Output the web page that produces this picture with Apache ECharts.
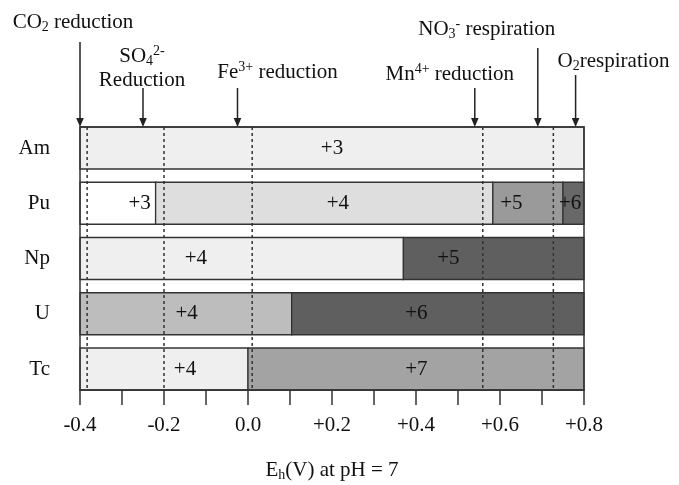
<!DOCTYPE html>
<html><head><meta charset="utf-8">
<script src="https://cdn.jsdelivr.net/npm/echarts@6/dist/echarts.min.js"></script>
<style>html,body{margin:0;padding:0;background:#fff}#c{width:679px;height:485px}</style>
</head><body><div id="c"></div>
<script>
// ---------- data ----------
const categories = ['Am', 'Pu', 'Np', 'U', 'Tc'];
const segElement = [0, 1, 1, 1, 1, 2, 2, 3, 3, 4, 4];
const segFrom = [-0.4, -0.4, -0.22, 0.583, 0.75, -0.4, 0.37, -0.4, 0.104, -0.4, 0.0];
const segTo = [0.8, -0.22, 0.583, 0.75, 0.8, 0.37, 0.8, 0.104, 0.8, 0.0, 0.8];
const segState = ['+3', '+3', '+4', '+5', '+6', '+4', '+5', '+4', '+6', '+4', '+7'];
const segLabelEh = [0.2, -0.258, 0.214, 0.627, 0.767, -0.124, 0.477, -0.146, 0.401, -0.15, 0.401];
const dashEh = [-0.383, -0.2, 0.01, 0.559, 0.727];
const arrowEh = [-0.4, -0.25, -0.025, 0.54, 0.69, 0.78];
const arrowText = [
  'CO{sub|2} reduction',
  'SO{sub|4}{sup|2-}\nReduction',
  'Fe{sup|3+} reduction',
  'Mn{sup|4+} reduction',
  'NO{sub|3}{sup|-} respiration',
  'O{sub|2}respiration'
];
const xTickLabels = ['-0.4', '-0.2', '0.0', '+0.2', '+0.4', '+0.6', '+0.8'];
const xMin = -0.4, xMax = 0.8, xStep = 0.1;

// ---------- styles / layout ----------
const SERIF = '"Liberation Serif", "Times New Roman", serif';
const FS = 21;
const FILLS = ['#efefef', '#ffffff', '#dedede', '#9a9a9a', '#686868', '#efefef', '#5f5f5f', '#bdbdbd', '#5f5f5f', '#efefef', '#a3a3a3'];
const ARROW_LEN = [85, 39, 39, 39, 79, 52];
const LABEL_DX = [-7, -1, 40, -25, -51, 38];
const LABEL_DY = [-20, -19.5, -16, -14, -19, -14];
const BAR_FRAC = 0.76;
const LINE_COLOR = '#333';
const TEXT_COLOR = '#111';
const RICH = {
  sub: { fontFamily: SERIF, fontSize: 14, lineHeight: 14, verticalAlign: 'bottom', fill: TEXT_COLOR },
  sup: { fontFamily: SERIF, fontSize: 14, lineHeight: 14, verticalAlign: 'top', fill: TEXT_COLOR }
};

function frameBounds(api) {
  const band = api.size([0, 1])[1];
  const h = band * BAR_FRAC;
  const y0 = api.coord([xMin, 0])[1];
  const y1 = api.coord([xMin, categories.length - 1])[1];
  return { h: h, top: Math.min(y0, y1) - h / 2, bottom: Math.max(y0, y1) + h / 2 };
}

const chart = echarts.init(document.getElementById('c'), null, { renderer: 'canvas' });
chart.setOption({
  animation: false,
  backgroundColor: '#fff',
  grid: { left: 80, right: 95, top: 120.375, bottom: 88.375, containLabel: false, outerBoundsMode: 'none' },
  xAxis: {
    type: 'value', min: xMin, max: xMax, interval: xStep, offset: -6.625,
    splitLine: { show: false },
    axisLine: { show: true, lineStyle: { color: LINE_COLOR, width: 1.5 } },
    axisTick: { show: true, length: 15, lineStyle: { color: LINE_COLOR, width: 1.5 } },
    axisLabel: {
      margin: 25, fontFamily: SERIF, fontSize: FS, color: TEXT_COLOR,
      formatter: function (v) {
        const idx = Math.round((v - xMin) / xStep);
        if (idx % 2 !== 0) return '';
        return xTickLabels[idx / 2] || '';
      }
    },
    name: 'E{sub|h}(V) at pH = 7', nameLocation: 'middle', nameGap: 68,
    nameTextStyle: {
      fontFamily: SERIF, fontSize: FS, color: TEXT_COLOR, lineHeight: 24,
      rich: { sub: { fontFamily: SERIF, fontSize: 14, lineHeight: 14, verticalAlign: 'bottom', color: TEXT_COLOR } }
    }
  },
  yAxis: {
    type: 'category', data: categories, inverse: true, offset: 3,
    axisLine: { show: false },
    axisTick: { show: true, alignWithLabel: true, length: 13, lineStyle: { color: LINE_COLOR, width: 1.5 } },
    axisLabel: { margin: 27, fontFamily: SERIF, fontSize: FS, color: TEXT_COLOR },
    splitLine: { show: false }
  },
  series: [
    {
      type: 'custom', clip: false, z: 2,
      data: segFrom.map((f, i) => [f, segTo[i], segElement[i]]),
      encode: { x: [0, 1], y: 2 },
      renderItem: function (params, api) {
        const i = params.dataIndex;
        const a = api.coord([api.value(0), api.value(2)]);
        const b = api.coord([api.value(1), api.value(2)]);
        const h = api.size([0, 1])[1] * BAR_FRAC;
        const lx = api.coord([segLabelEh[i], api.value(2)])[0];
        return {
          type: 'group', children: [
            { type: 'rect', shape: { x: a[0], y: a[1] - h / 2, width: b[0] - a[0], height: h },
              style: { fill: FILLS[i], stroke: LINE_COLOR, lineWidth: 1.3 } },
            { type: 'text', x: lx, y: a[1],
              style: { text: segState[i], align: 'center', verticalAlign: 'middle', fontFamily: SERIF, fontSize: FS, fill: TEXT_COLOR } }
          ]
        };
      }
    },
    {
      type: 'custom', clip: false, z: 3,
      data: [[xMin, 0]],
      encode: { x: 0, y: 1 },
      renderItem: function (params, api) {
        const f = frameBounds(api);
        const l = api.coord([xMin, 0])[0], r = api.coord([xMax, 0])[0];
        return { type: 'rect', shape: { x: l, y: f.top, width: r - l, height: f.bottom - f.top },
          style: { fill: null, stroke: LINE_COLOR, lineWidth: 1.5 } };
      }
    },
    {
      type: 'custom', clip: false, z: 4,
      data: dashEh.map(v => [v, 0]),
      encode: { x: 0, y: 1 },
      renderItem: function (params, api) {
        const f = frameBounds(api);
        const x = api.coord([api.value(0), 0])[0];
        return { type: 'line', shape: { x1: x, y1: f.top, x2: x, y2: f.bottom },
          style: { stroke: LINE_COLOR, lineWidth: 1.5, lineDash: [3, 3] } };
      }
    },
    {
      type: 'custom', clip: false, z: 5,
      data: arrowEh.map(v => [v, 0]),
      encode: { x: 0, y: 1 },
      renderItem: function (params, api) {
        const i = params.dataIndex;
        const f = frameBounds(api);
        const x = api.coord([api.value(0), 0])[0];
        const tip = f.top;
        const start = tip - ARROW_LEN[i];
        return {
          type: 'group', children: [
            { type: 'line', shape: { x1: x, y1: start, x2: x, y2: tip - 6 },
              style: { stroke: '#222', lineWidth: 1.5 } },
            { type: 'polygon', shape: { points: [[x - 3.8, tip - 9], [x + 3.8, tip - 9], [x, tip]] },
              style: { fill: '#222' } },
            { type: 'text', x: x + LABEL_DX[i], y: start + LABEL_DY[i],
              style: { text: arrowText[i], rich: RICH, align: 'center', verticalAlign: 'middle',
                fontFamily: SERIF, fontSize: FS, lineHeight: 24, fill: TEXT_COLOR } }
          ]
        };
      }
    }
  ]
});
</script>
</body></html>
